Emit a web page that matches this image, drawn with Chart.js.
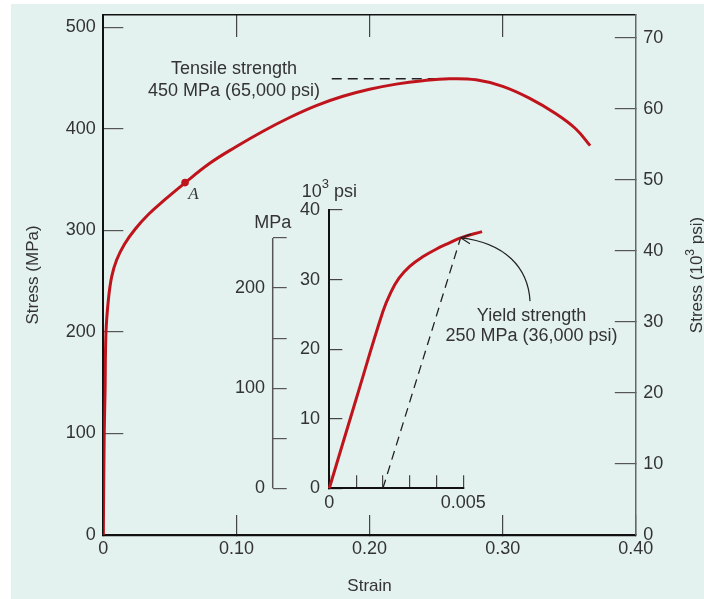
<!DOCTYPE html>
<html>
<head>
<meta charset="utf-8">
<title>Stress-strain curve</title>
<script src="https://cdn.jsdelivr.net/npm/chart.js@4.4.1/dist/chart.umd.min.js"></script>
<style>
  html, body { margin: 0; padding: 0; background: #ffffff; }
  .wrap { position: relative; width: 704px; height: 599px; overflow: hidden; }
  .panel { position: absolute; left: 11px; top: 4px; right: 0; bottom: 0; background: #e4f2ef; }
  #mainChart { position: absolute; left: 0; top: 0; }
  #insetChart { position: absolute; left: 220px; top: 175px; }
</style>
</head>
<body>
<div class="wrap">
  <div class="panel"></div>
  <canvas id="mainChart" width="704" height="599"></canvas>
  <canvas id="insetChart" width="420" height="345"></canvas>
</div>
<script>
// main curve: engineering strain vs stress (MPa)
const strain = [0, 0.0007, 0.0013, 0.002, 0.0038, 0.0063, 0.010, 0.016, 0.024, 0.034, 0.046, 0.06,
  0.08, 0.10, 0.12, 0.14, 0.16, 0.18, 0.20, 0.22, 0.24, 0.26, 0.28, 0.30, 0.32, 0.34, 0.355, 0.3657];
const stressMPa = [0, 100, 140, 199, 231.5, 254.5, 271, 286.7, 301.5, 316, 330.1, 345.5,
  366.2, 382.7, 397.8, 411.3, 423, 432.2, 439.1, 444.2, 447.6, 449.5, 448.5, 442, 430.4, 415, 400, 383.6];
const pointA = { strain: 0.0614, stress: 347.2 };
const tensileLineStrain = [0.1716, 0.27];
const tensileLineStress = [449.5, 449.5];
const tensileNote = { strain: 0.0982, stress: 448.3 };

const strainTicks = [0, 0.1, 0.2, 0.3, 0.4];
const topTicks = [0.1, 0.2, 0.3];
const mpaTicks = [0, 100, 200, 300, 400, 500];
const ksiTicks = [0, 10, 20, 30, 40, 50, 60, 70];

// inset: low strain part, stress in 10^3 psi
const insetStrain = [0, 0.001, 0.002, 0.0023, 0.0026, 0.003, 0.0035, 0.004, 0.0045, 0.0049, 0.0057];
const insetKsi = [0, 12.8, 25.4, 28.2, 30.2, 31.9, 33.3, 34.4, 35.3, 36.0, 36.9];
const offsetStrain = [0.002, 0.0049];
const offsetKsi = [0, 36];
const insetStrainTicks = [0, 0.001, 0.002, 0.003, 0.004, 0.005];
const insetKsiTicks = [0, 10, 20, 30, 40];
const insetMpaTicks = [0, 50, 100, 150, 200, 250];
const insetMpaLabels = [0, 100, 200];
const yieldNote = { strain: 0.007545, ksi: 23.3 };
const arrowStrain = [0.00749, 0.00742, 0.00656, 0.0049];
const arrowKsi = [26.9, 31.7, 35.3, 36.0];

const RED = '#c0141d';
const INK = '#333333';
const FONT = "'Liberation Sans', Arial, sans-serif";

Chart.defaults.font.family = FONT;
Chart.defaults.font.size = 18;
Chart.defaults.color = INK;

// force the box size of a scale and drop the auto label padding
function sized(size) {
  return function (scale) {
    if (scale.isHorizontal()) scale.height = size;
    else scale.width = size;
    scale.paddingLeft = scale.paddingRight = scale.paddingTop = scale.paddingBottom = 0;
  };
}
function fixedTicks(values) {
  return function (scale) {
    scale.ticks = values.map(v => ({ value: v }));
  };
}
function pts(xs, ys) {
  return xs.map((x, i) => ({ x: x, y: ys[i] }));
}
function supText(ctx, parts, size) {
  const small = Math.round(size * 0.72);
  let total = 0;
  parts.forEach(p => {
    ctx.font = (p[1] ? small : size) + 'px ' + FONT;
    total += ctx.measureText(p[0]).width;
  });
  let cx = -total / 2;
  ctx.textAlign = 'left';
  ctx.textBaseline = 'middle';
  parts.forEach(p => {
    ctx.font = (p[1] ? small : size) + 'px ' + FONT;
    ctx.fillText(p[0], cx, p[1] ? -size * 0.4 : 0);
    cx += ctx.measureText(p[0]).width;
  });
}

const mainNotes = {
  id: 'mainNotes',
  afterDraw(chart) {
    const { ctx, scales: { x, y, y2 } } = chart;
    ctx.save();
    ctx.fillStyle = INK;
    ctx.font = '18px ' + FONT;
    ctx.textAlign = 'center';
    ctx.textBaseline = 'middle';
    const tx = x.getPixelForValue(tensileNote.strain);
    const ty = y.getPixelForValue(tensileNote.stress);
    ctx.fillText('Tensile strength', tx, ty - 10.7);
    ctx.fillText('450 MPa (65,000 psi)', tx, ty + 10.7);

    ctx.font = 'italic 17px "Liberation Serif", "DejaVu Serif", serif';
    ctx.fillText('A', x.getPixelForValue(pointA.strain) + 8.5, y.getPixelForValue(pointA.stress) + 11.5);

    ctx.translate(y2.right - 7, (y2.top + y2.bottom) / 2);
    ctx.rotate(-Math.PI / 2);
    supText(ctx, [['Stress (10', 0], ['3', 1], [' psi)', 0]], 17);
    ctx.restore();
  }
};

new Chart(document.getElementById('mainChart'), {
  type: 'line',
  data: {
    datasets: [
      {
        data: pts(strain, stressMPa),
        borderColor: RED, borderWidth: 3, pointRadius: 0,
        tension: 0.4
      },
      {
        data: [{ x: pointA.strain, y: pointA.stress }],
        showLine: false, pointRadius: 3.8, pointBorderWidth: 0,
        pointBackgroundColor: RED
      },
      {
        data: pts(tensileLineStrain, tensileLineStress),
        borderColor: '#222', borderWidth: 1.3, borderDash: [10, 6], pointRadius: 0
      }
    ]
  },
  options: {
    responsive: false,
    animation: false,
    events: [],
    layout: { padding: 0 },
    plugins: { legend: { display: false }, tooltip: { enabled: false } },
    scales: {
      x: {
        type: 'linear', position: 'bottom', min: 0, max: 0.4,
        afterBuildTicks: fixedTicks(strainTicks), afterFit: sized(64),
        grid: { drawOnChartArea: false, tickLength: -20, color: '#444', lineWidth: 1.2 },
        border: { color: '#111', width: 2.2 },
        ticks: { padding: 23.2, autoSkip: false, maxRotation: 0,
          callback: v => v === 0 ? '0' : v.toFixed(2) },
        title: { display: true, text: 'Strain', font: { size: 17 }, padding: { top: 0, bottom: 2 } }
      },
      x2: {
        type: 'linear', position: 'top', min: 0, max: 0.4,
        afterBuildTicks: fixedTicks(topTicks), afterFit: sized(15),
        grid: { drawOnChartArea: false, tickLength: -22, color: '#444', lineWidth: 1.2 },
        border: { color: '#111', width: 1.6 },
        ticks: { display: false }
      },
      y: {
        type: 'linear', position: 'left', min: 0, max: 512.3,
        afterBuildTicks: fixedTicks(mpaTicks), afterFit: sized(103.3),
        grid: { drawOnChartArea: false, tickLength: -20, color: '#555', lineWidth: 1.2 },
        border: { color: '#111', width: 2 },
        ticks: { padding: 27.6, autoSkip: false },
        title: { display: true, text: 'Stress (MPa)', font: { size: 17 }, padding: { top: 23, bottom: 0 } }
      },
      y2: {
        type: 'linear', position: 'right', min: 0, max: 73.24,
        afterBuildTicks: fixedTicks(ksiTicks), afterFit: sized(68.2),
        grid: { drawOnChartArea: false, tickLength: -21, color: '#555', lineWidth: 1.2 },
        border: { color: '#666', width: 1.5 },
        ticks: { padding: 28.5, autoSkip: false }
      }
    }
  },
  plugins: [mainNotes]
});

const insetNotes = {
  id: 'insetNotes',
  afterDraw(chart) {
    const { ctx, scales: { x, y, yMpa } } = chart;
    ctx.save();
    // MPa axis line stops at 250
    ctx.strokeStyle = '#555';
    ctx.lineWidth = 1.5;
    ctx.beginPath();
    ctx.moveTo(yMpa.right, yMpa.getPixelForValue(0));
    ctx.lineTo(yMpa.right, yMpa.getPixelForValue(250));
    ctx.stroke();

    ctx.fillStyle = INK;
    ctx.font = '18px ' + FONT;
    ctx.textAlign = 'center';
    ctx.textBaseline = 'middle';
    ctx.fillText('MPa', yMpa.right, yMpa.getPixelForValue(250) - 15.3);

    const lx = x.getPixelForValue(yieldNote.strain);
    const ly = y.getPixelForValue(yieldNote.ksi);
    ctx.fillText('Yield strength', lx, ly - 10.2);
    ctx.fillText('250 MPa (36,000 psi)', lx, ly + 10.2);

    ctx.save();
    ctx.translate(x.getPixelForValue(0), y.top - 18.3);
    supText(ctx, [['10', 0], ['3', 1], [' psi', 0]], 18);
    ctx.restore();

    // curved arrow to the yield point
    const ax = arrowStrain.map(v => x.getPixelForValue(v));
    const ay = arrowKsi.map(v => y.getPixelForValue(v));
    ctx.strokeStyle = '#222';
    ctx.lineWidth = 1.2;
    ctx.beginPath();
    ctx.moveTo(ax[0], ay[0]);
    ctx.bezierCurveTo(ax[1], ay[1], ax[2], ay[2], ax[3], ay[3]);
    ctx.stroke();
    const ang = Math.atan2(ay[3] - ay[2], ax[3] - ax[2]);
    ctx.beginPath();
    [0.45, -0.45].forEach(d => {
      ctx.moveTo(ax[3], ay[3]);
      ctx.lineTo(ax[3] - 11 * Math.cos(ang + d), ay[3] - 11 * Math.sin(ang + d));
    });
    ctx.stroke();
    ctx.restore();
  }
};

new Chart(document.getElementById('insetChart'), {
  type: 'line',
  data: {
    datasets: [
      {
        data: pts(insetStrain, insetKsi),
        borderColor: RED, borderWidth: 3, pointRadius: 0,
        tension: 0.4, clip: false
      },
      {
        data: pts(offsetStrain, offsetKsi),
        borderColor: '#222', borderWidth: 1.3, borderDash: [9, 6], pointRadius: 0
      }
    ]
  },
  options: {
    responsive: false,
    animation: false,
    events: [],
    layout: { padding: { top: 35, right: 176.7, left: 0, bottom: 0 } },
    plugins: { legend: { display: false }, tooltip: { enabled: false } },
    scales: {
      x: {
        type: 'linear', position: 'bottom', min: 0, max: 0.005,
        afterBuildTicks: fixedTicks(insetStrainTicks), afterFit: sized(31.7),
        grid: { drawOnChartArea: false, tickLength: -13, color: '#444', lineWidth: 1.2 },
        border: { color: '#111', width: 2 },
        ticks: { padding: 16.9, autoSkip: false, maxRotation: 0,
          callback: v => v === 0 ? '0' : (Math.abs(v - 0.005) < 1e-9 ? '0.005' : '') }
      },
      y: {
        type: 'linear', position: 'left', weight: 0, min: 0, max: 40,
        afterBuildTicks: fixedTicks(insetKsiTicks), afterFit: sized(56.6),
        grid: { drawOnChartArea: false, tickLength: -13, color: '#444', lineWidth: 1.2 },
        border: { color: '#111', width: 2 },
        ticks: { padding: 22.3, autoSkip: false }
      },
      yMpa: {
        type: 'linear', position: 'left', weight: 1, min: 0, max: 278,
        afterBuildTicks: fixedTicks(insetMpaTicks), afterFit: sized(52.7),
        grid: { drawOnChartArea: false, tickLength: -14, color: '#555', lineWidth: 1.2 },
        border: { display: false },
        ticks: { padding: 21.7, autoSkip: false,
          callback: v => insetMpaLabels.includes(v) ? String(v) : '' }
      }
    }
  },
  plugins: [insetNotes]
});
</script>
</body>
</html>
